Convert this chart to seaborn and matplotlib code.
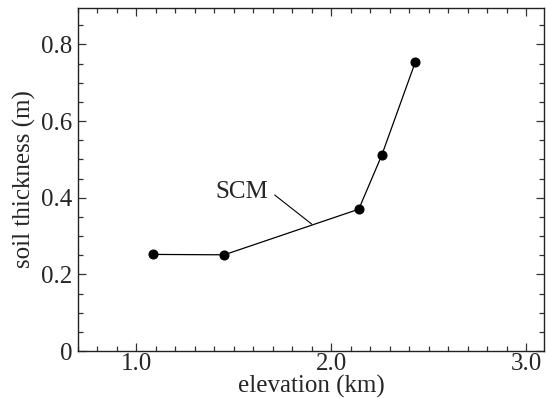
import matplotlib
matplotlib.use("Agg")
import matplotlib.pyplot as plt
import seaborn as sns
import pandas as pd
from matplotlib.ticker import MultipleLocator

elevation_km = [1.085, 1.45, 2.14, 2.258, 2.43]
soil_thickness_m = [0.252, 0.251, 0.370, 0.511, 0.754]
series_label = "SCM"
x_ticks = [1.0, 2.0, 3.0]
x_tick_labels = ["1.0", "2.0", "3.0"]
y_ticks = [0, 0.2, 0.4, 0.6, 0.8]
y_tick_labels = ["0", "0.2", "0.4", "0.6", "0.8"]

df = pd.DataFrame({"elevation": elevation_km, "thickness": soil_thickness_m})

sns.set_style("ticks")
plt.rcParams["font.family"] = ["Liberation Serif", "DejaVu Serif"]

fig = plt.figure(figsize=(5.46, 3.98), dpi=100)
ax = fig.add_axes([78/546, 1-351/398, (544-78)/546, (351-8)/398])

sns.lineplot(data=df, x="elevation", y="thickness", ax=ax, color="black",
             lw=0.9, marker="o", markersize=6.5, markeredgecolor="black",
             markerfacecolor="black", sort=False)

ax.set_xlim(0.7, 3.09)
ax.set_ylim(0, 0.895)
ax.set_xticks(x_ticks)
ax.set_xticklabels(x_tick_labels)
ax.set_yticks(y_ticks)
ax.set_yticklabels(y_tick_labels)
ax.xaxis.set_minor_locator(MultipleLocator(0.1))
ax.yaxis.set_minor_locator(MultipleLocator(0.05))
ax.tick_params(which="both", direction="in", top=True, right=True,
               labelsize=18, color="#333333", width=0.9)
ax.tick_params(axis="x", pad=1.5)
ax.tick_params(axis="y", pad=4)
ax.tick_params(which="major", length=6)
ax.tick_params(which="minor", length=3.5)
for s in ax.spines.values():
    s.set_linewidth(1.0)
    s.set_color("#222222")

ax.set_xlabel("elevation (km)", fontsize=18, labelpad=0)
ax.set_ylabel("soil thickness (m)", fontsize=18, labelpad=4)

ax.text(1.678, 0.414, series_label, fontsize=18, ha="right", va="center")
ax.annotate("", xy=(1.899, 0.331), xytext=(1.709, 0.407),
            textcoords="data",
            arrowprops=dict(arrowstyle="-", color="black", lw=0.8,
                            shrinkA=0, shrinkB=0))

fig.savefig("out.png", dpi=100)
